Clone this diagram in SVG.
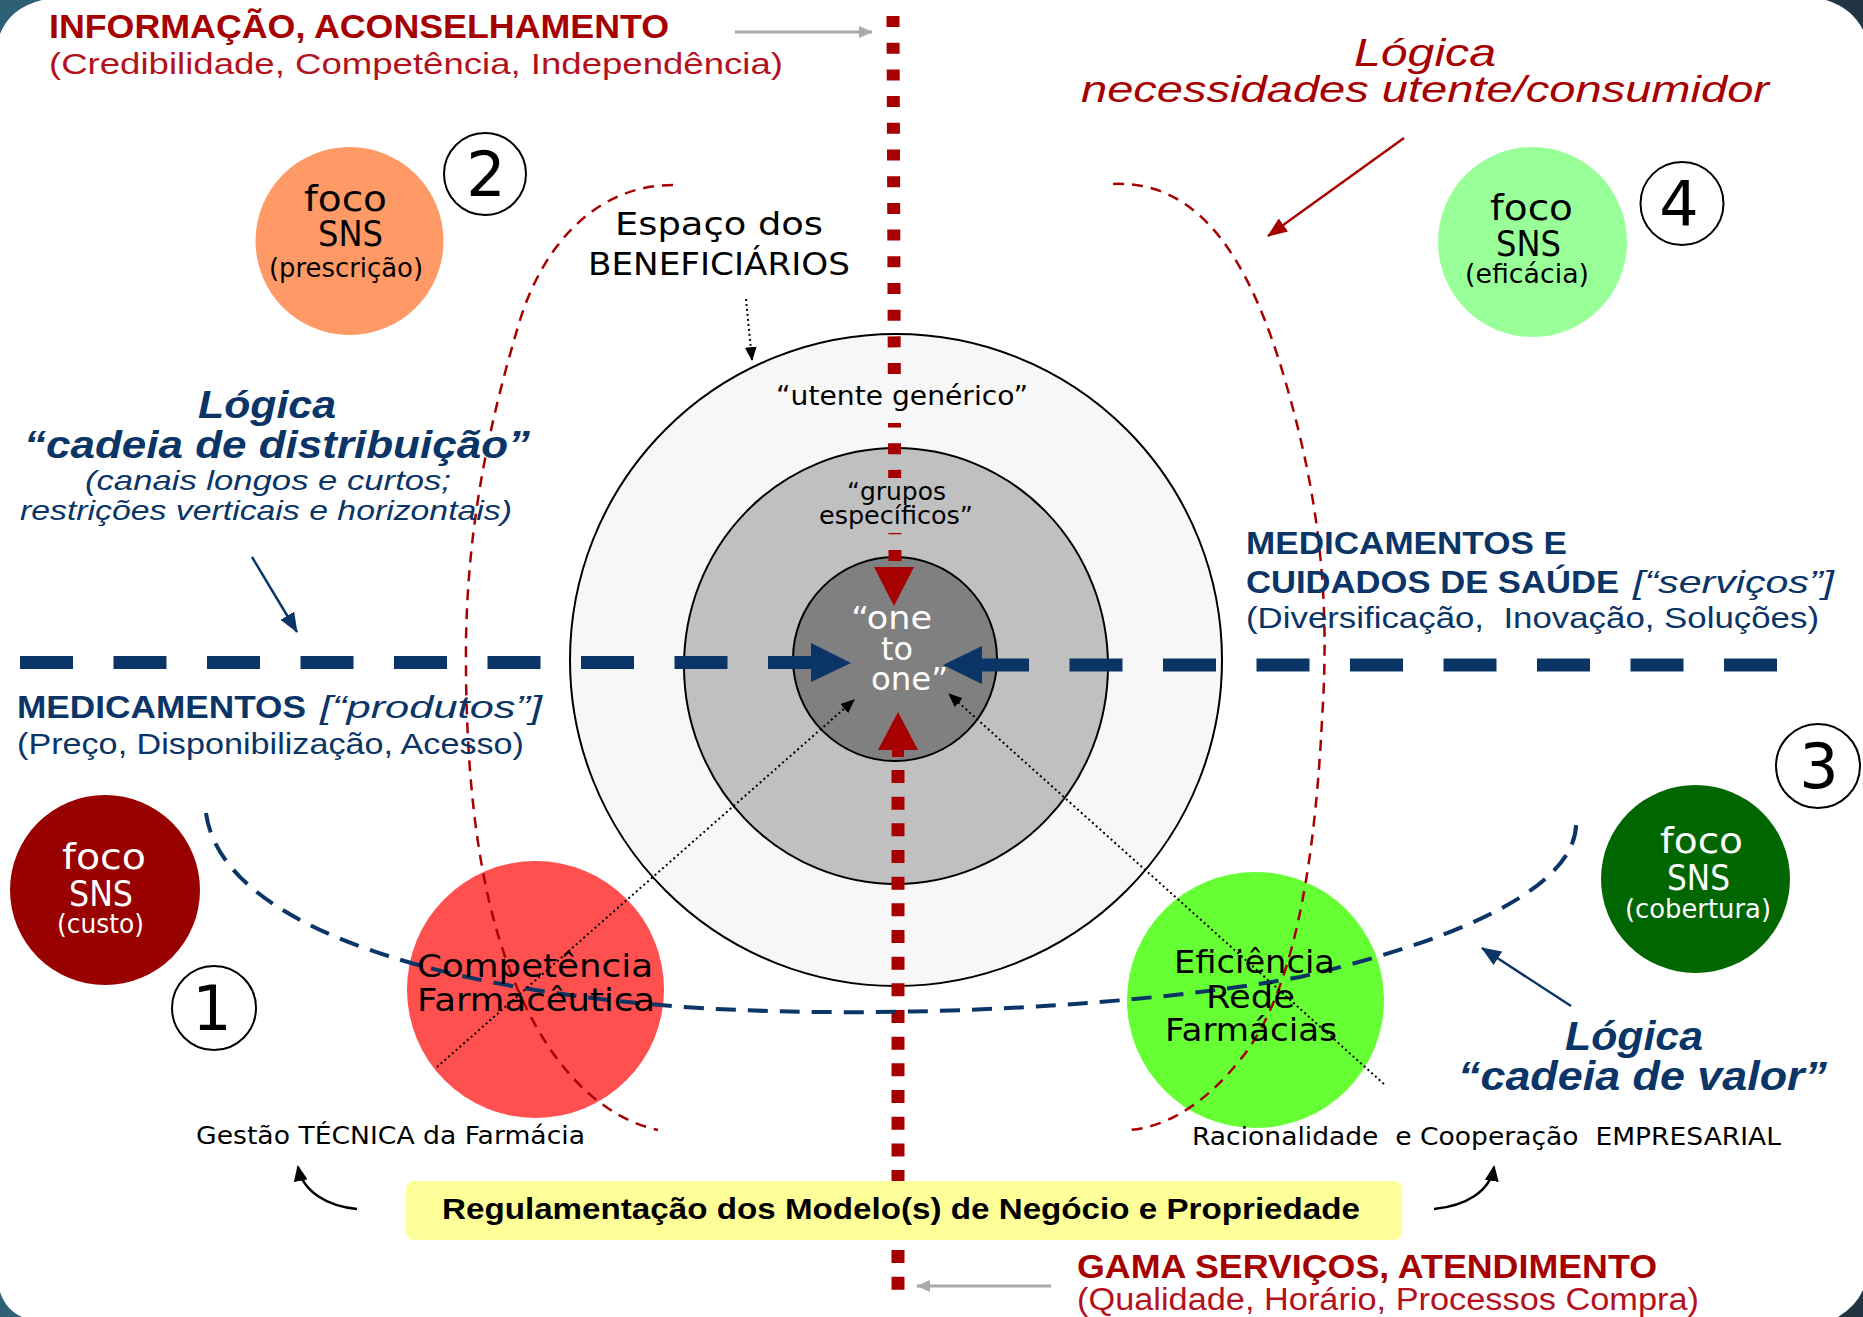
<svg xmlns="http://www.w3.org/2000/svg" width="1863" height="1317" viewBox="0 0 1863 1317">
  <defs>
    <style>
      text { font-family: "Liberation Sans", Arial, sans-serif; }
      .geo { font-family: "DejaVu Sans", "Liberation Sans", sans-serif; }
      .red { fill: #a60000; }
      .red2 { fill: #b3121c; }
      .navy { fill: #0a3566; }
      .b { font-weight: bold; }
      .i { font-style: italic; }
      .w { fill: #ffffff; }
      .k { fill: #000000; }
      .pre { white-space: pre; }
      .num { font-size: 62px; text-anchor: middle; fill: #000; }
      .ring { stroke: #000; stroke-width: 2; }
      .numc { fill: #fff; stroke: #000; stroke-width: 2; }
      .dotted { fill: none; stroke: #000; stroke-width: 2; stroke-dasharray: 2 3; }
      .reddash { fill: none; stroke: #a60000; stroke-width: 2.5; stroke-dasharray: 11 8; }
      .bluedash { fill: none; stroke: #0a3566; stroke-width: 4; stroke-dasharray: 20 12; }
    </style>
    <marker id="ahBlack" viewBox="0 0 14 12" refX="13" refY="6" markerWidth="14" markerHeight="12" markerUnits="userSpaceOnUse" orient="auto">
      <path d="M0,0 L14,6 L0,12 z" fill="#000"/>
    </marker>
    <marker id="ahCurve" viewBox="0 0 16 14" refX="14" refY="7" markerWidth="16" markerHeight="14" markerUnits="userSpaceOnUse" orient="auto">
      <path d="M0,0 L16,7 L0,14 z" fill="#000"/>
    </marker>
    <marker id="ahGray" viewBox="0 0 14 12" refX="13" refY="6" markerWidth="14" markerHeight="12" markerUnits="userSpaceOnUse" orient="auto">
      <path d="M0,0 L14,6 L0,12 z" fill="#aaaaaa"/>
    </marker>
    <marker id="ahRed" viewBox="0 0 20 16" refX="19" refY="8" markerWidth="20" markerHeight="16" markerUnits="userSpaceOnUse" orient="auto">
      <path d="M0,0 L20,8 L0,16 z" fill="#a60000"/>
    </marker>
    <marker id="ahBlue" viewBox="0 0 20 16" refX="19" refY="8" markerWidth="20" markerHeight="16" markerUnits="userSpaceOnUse" orient="auto">
      <path d="M0,0 L20,8 L0,16 z" fill="#0a3566"/>
    </marker>
  </defs>

  <!-- page and frame corners -->
  <rect x="0" y="0" width="1863" height="1317" fill="#ffffff"/>
  <path d="M0,0 L42,0 Q10,8 0,34 Z" fill="#2e6175"/>
  <path d="M1826,0 L1863,0 L1863,30 Q1852,8 1826,0 Z" fill="#213542"/>
  <path d="M0,1292 Q6,1310 22,1317 L0,1317 Z" fill="#2e6175"/>
  <path d="M1863,1290 Q1856,1306 1838,1317 L1863,1317 Z" fill="#213542"/>

  <!-- beneficiary space: concentric rings -->
  <g id="beneficiarios">
    <circle cx="896" cy="660" r="326" fill="#f7f7f7" class="ring"/>
    <ellipse cx="896" cy="666" rx="212" ry="218" fill="#c0c0c0" class="ring"/>
    <circle cx="895" cy="659" r="102" fill="#808080" class="ring"/>
  </g>

  <g id="connectors">
    <!-- vertical axis (red) -->
    <line x1="893" y1="16" x2="895" y2="566" stroke="#a60000" stroke-width="13" stroke-dasharray="11 15.7"/>
    <polygon points="874,567 914,567 894,606" fill="#a60000"/>
    <polygon points="878,750 918,750 898,712" fill="#a60000"/>
    <rect x="892" y="749" width="12" height="8" fill="#a60000"/>
    <line x1="898" y1="770" x2="898" y2="1292" stroke="#a60000" stroke-width="13" stroke-dasharray="13 13.67"/>

    <!-- horizontal axis (blue) -->
    <line x1="20" y1="662.5" x2="811" y2="662.5" stroke="#0a3566" stroke-width="13" stroke-dasharray="53 40.5"/>
    <polygon points="811,643 811,682 851,663" fill="#0a3566"/>
    <line x1="976" y1="665" x2="1777" y2="665" stroke="#0a3566" stroke-width="13" stroke-dasharray="53 40.5"/>
    <polygon points="982,646 982,684 943,665" fill="#0a3566"/>
  </g>

  <!-- ring labels -->
  <g id="utente-generico">
    <rect x="772" y="380" width="256" height="43" fill="#f7f7f7"/>
    <text x="776" y="405" class="geo k" font-size="26" textLength="252" lengthAdjust="spacingAndGlyphs">“utente genérico”</text>
  </g>
  <g id="grupos-especificos">
    <rect x="816" y="478" width="160" height="55" fill="#c0c0c0"/>
    <text x="847" y="500" class="geo k" font-size="24" textLength="99" lengthAdjust="spacingAndGlyphs">“grupos</text>
    <text x="819" y="524" class="geo k" font-size="24" textLength="154" lengthAdjust="spacingAndGlyphs">específicos”</text>
  </g>
  <g id="one-to-one">
    <text x="851" y="629" class="geo w" font-size="32" textLength="81" lengthAdjust="spacingAndGlyphs">“one</text>
    <text x="881" y="660" class="geo w" font-size="32" textLength="32" lengthAdjust="spacingAndGlyphs">to</text>
    <text x="871" y="690" class="geo w" font-size="32" textLength="77" lengthAdjust="spacingAndGlyphs">one”</text>
  </g>

  <!-- pharmacy circles -->
  <g id="competencia">
    <ellipse cx="535.5" cy="989.5" rx="128.5" ry="128.5" fill="#ff5050"/>
  </g>
  <g id="eficiencia">
    <ellipse cx="1255.5" cy="1000" rx="128.5" ry="128" fill="#66ff33"/>
  </g>

  <g id="connectors-curves">
    <!-- dashed logic boundaries -->
    <path class="reddash" d="M673,185 C600,185 545,240 520,320 C490,420 468,520 466,640 C465,760 475,880 510,970 C540,1050 590,1115 658,1130"/>
    <path class="reddash" d="M1113,184 C1200,180 1250,260 1285,380 C1320,500 1330,600 1322,720 C1314,880 1290,1000 1240,1060 C1200,1110 1160,1128 1129,1130"/>
    <path class="bluedash" d="M206,813 C220,920 420,990 700,1008 C900,1020 1150,1005 1300,977 C1480,935 1580,880 1576,820"/>

    <!-- dotted pointers -->
    <line class="dotted" x1="746" y1="299" x2="752" y2="360" marker-end="url(#ahBlack)"/>
    <line class="dotted" x1="437" y1="1067" x2="854" y2="700" marker-end="url(#ahBlack)"/>
    <line class="dotted" x1="1384" y1="1084" x2="949" y2="694" marker-end="url(#ahBlack)"/>

    <!-- solid pointers -->
    <line x1="735" y1="32" x2="872" y2="32" stroke="#aaaaaa" stroke-width="3" marker-end="url(#ahGray)"/>
    <line x1="1051" y1="1286" x2="917" y2="1286" stroke="#aaaaaa" stroke-width="3" marker-end="url(#ahGray)"/>
    <line x1="1404" y1="138" x2="1268" y2="236" stroke="#a60000" stroke-width="2.5" marker-end="url(#ahRed)"/>
    <line x1="252" y1="557" x2="297" y2="632" stroke="#0a3566" stroke-width="2.5" marker-end="url(#ahBlue)"/>
    <line x1="1571" y1="1006" x2="1482" y2="948" stroke="#0a3566" stroke-width="2.5" marker-end="url(#ahBlue)"/>

    <!-- curved arrows from the regulation box -->
    <path d="M357,1209 C327,1206 303,1192 298,1167" fill="none" stroke="#000" stroke-width="2.5" marker-end="url(#ahCurve)"/>
    <path d="M1434,1209 C1465,1206 1490,1192 1494,1167" fill="none" stroke="#000" stroke-width="2.5" marker-end="url(#ahCurve)"/>
  </g>

  <!-- pharmacy circle labels -->
  <g id="competencia-label">
    <text x="417" y="977" class="geo k" font-size="32" textLength="236" lengthAdjust="spacingAndGlyphs">Competência</text>
    <text x="417" y="1011" class="geo k" font-size="32" textLength="238" lengthAdjust="spacingAndGlyphs">Farmacêutica</text>
  </g>
  <g id="eficiencia-label">
    <text x="1174" y="973" class="geo k" font-size="32" textLength="161" lengthAdjust="spacingAndGlyphs">Eficiência</text>
    <text x="1206" y="1008" class="geo k" font-size="32" textLength="89" lengthAdjust="spacingAndGlyphs">Rede</text>
    <text x="1165" y="1041" class="geo k" font-size="32" textLength="172" lengthAdjust="spacingAndGlyphs">Farmácias</text>
  </g>

  <!-- SNS focus nodes -->
  <g id="foco-prescricao">
    <circle cx="349.5" cy="241" r="94" fill="#ff9966"/>
    <text x="304" y="211" class="geo k" font-size="36" textLength="83" lengthAdjust="spacingAndGlyphs">foco</text>
    <text x="318" y="246" class="geo k" font-size="36" textLength="65" lengthAdjust="spacingAndGlyphs">SNS</text>
    <text x="269" y="277" class="geo k" font-size="26" textLength="154" lengthAdjust="spacingAndGlyphs">(prescrição)</text>
  </g>
  <g id="foco-eficacia">
    <ellipse cx="1532.5" cy="242" rx="94.5" ry="95" fill="#99ff99"/>
    <text x="1490" y="220" class="geo k" font-size="36" textLength="83" lengthAdjust="spacingAndGlyphs">foco</text>
    <text x="1496" y="256" class="geo k" font-size="36" textLength="65" lengthAdjust="spacingAndGlyphs">SNS</text>
    <text x="1465" y="283" class="geo k" font-size="26" textLength="124" lengthAdjust="spacingAndGlyphs">(eficácia)</text>
  </g>
  <g id="foco-custo">
    <circle cx="105" cy="890" r="95" fill="#990000"/>
    <text x="62" y="869" class="geo w" font-size="36" textLength="84" lengthAdjust="spacingAndGlyphs">foco</text>
    <text x="69" y="906" class="geo w" font-size="36" textLength="64" lengthAdjust="spacingAndGlyphs">SNS</text>
    <text x="57" y="933" class="geo w" font-size="26" textLength="87" lengthAdjust="spacingAndGlyphs">(custo)</text>
  </g>
  <g id="foco-cobertura">
    <ellipse cx="1695.5" cy="879" rx="94.5" ry="94" fill="#006600"/>
    <text x="1660" y="853" class="geo w" font-size="36" textLength="83" lengthAdjust="spacingAndGlyphs">foco</text>
    <text x="1667" y="890" class="geo w" font-size="36" textLength="63" lengthAdjust="spacingAndGlyphs">SNS</text>
    <text x="1625" y="918" class="geo w" font-size="26" textLength="146" lengthAdjust="spacingAndGlyphs">(cobertura)</text>
  </g>

  <!-- quadrant numbers -->
  <g id="num-1"><circle cx="214" cy="1008" r="42" class="numc"/><text x="212" y="1030" class="num geo">1</text></g>
  <g id="num-2"><circle cx="485" cy="174" r="41" class="numc"/><text x="486" y="196" class="num geo">2</text></g>
  <g id="num-3"><circle cx="1818" cy="766" r="42" class="numc"/><text x="1819" y="788" class="num geo">3</text></g>
  <g id="num-4"><circle cx="1682" cy="203.5" r="41.5" class="numc"/><text x="1679" y="226" class="num geo">4</text></g>

  <!-- beneficiary caption -->
  <g id="espaco">
    <text x="615" y="235" class="geo k" font-size="32" textLength="208" lengthAdjust="spacingAndGlyphs">Espaço dos</text>
    <text x="588" y="275" class="geo k" font-size="32" textLength="262" lengthAdjust="spacingAndGlyphs">BENEFICIÁRIOS</text>
  </g>

  <!-- axis captions -->
  <g id="informacao">
    <text x="49" y="38" class="red b" font-size="33" textLength="620" lengthAdjust="spacingAndGlyphs">INFORMAÇÃO, ACONSELHAMENTO</text>
    <text x="49" y="74" class="red2" font-size="30" textLength="734" lengthAdjust="spacingAndGlyphs">(Credibilidade, Competência, Independência)</text>
  </g>
  <g id="logica-necessidades">
    <text x="1354" y="66" class="red i" font-size="38" textLength="142" lengthAdjust="spacingAndGlyphs">Lógica</text>
    <text x="1081" y="102" class="red i" font-size="36" textLength="688" lengthAdjust="spacingAndGlyphs">necessidades utente/consumidor</text>
  </g>
  <g id="logica-distribuicao">
    <text x="198" y="418" class="navy b i" font-size="38" textLength="138" lengthAdjust="spacingAndGlyphs">Lógica</text>
    <text x="24" y="458" class="navy b i" font-size="38" textLength="506" lengthAdjust="spacingAndGlyphs">“cadeia de distribuição”</text>
    <text x="85" y="490" class="navy i" font-size="28" textLength="366" lengthAdjust="spacingAndGlyphs">(canais longos e curtos;</text>
    <text x="20" y="520" class="navy i" font-size="28" textLength="492" lengthAdjust="spacingAndGlyphs">restrições verticais e horizontais)</text>
  </g>
  <g id="medicamentos-produtos">
    <text x="17" y="718" class="navy b" font-size="32" textLength="289" lengthAdjust="spacingAndGlyphs">MEDICAMENTOS</text>
    <text x="320" y="718" class="navy i" font-size="32" textLength="222" lengthAdjust="spacingAndGlyphs">[“produtos”]</text>
    <text x="17" y="754" class="navy" font-size="29" textLength="507" lengthAdjust="spacingAndGlyphs">(Preço, Disponibilização, Acesso)</text>
  </g>
  <g id="medicamentos-servicos">
    <text x="1246" y="554" class="navy b" font-size="32" textLength="321" lengthAdjust="spacingAndGlyphs">MEDICAMENTOS E</text>
    <text x="1246" y="593" class="navy b" font-size="32" textLength="373" lengthAdjust="spacingAndGlyphs">CUIDADOS DE SAÚDE</text>
    <text x="1633" y="593" class="navy i" font-size="32" textLength="201" lengthAdjust="spacingAndGlyphs">[“serviços”]</text>
    <text x="1246" y="628" class="navy pre" font-size="29" textLength="573" lengthAdjust="spacingAndGlyphs">(Diversificação,  Inovação, Soluções)</text>
  </g>
  <g id="logica-valor">
    <text x="1565" y="1050" class="navy b i" font-size="40" textLength="138" lengthAdjust="spacingAndGlyphs">Lógica</text>
    <text x="1458" y="1090" class="navy b i" font-size="40" textLength="369" lengthAdjust="spacingAndGlyphs">“cadeia de valor”</text>
  </g>
  <g id="gestao-tecnica">
    <text x="196" y="1144" class="geo k" font-size="24" textLength="389" lengthAdjust="spacingAndGlyphs">Gestão TÉCNICA da Farmácia</text>
  </g>
  <g id="racionalidade">
    <text x="1192" y="1145" class="geo k pre" font-size="24" textLength="589" lengthAdjust="spacingAndGlyphs">Racionalidade  e Cooperação  EMPRESARIAL</text>
  </g>

  <!-- regulation banner -->
  <g id="regulamentacao">
    <rect x="406" y="1181" width="996" height="59" rx="8" fill="#ffff99"/>
    <text x="442" y="1219" class="b k" font-size="29" textLength="918" lengthAdjust="spacingAndGlyphs">Regulamentação dos Modelo(s) de Negócio e Propriedade</text>
  </g>

  <g id="gama-servicos">
    <text x="1077" y="1278" class="red b" font-size="34" textLength="580" lengthAdjust="spacingAndGlyphs">GAMA SERVIÇOS, ATENDIMENTO</text>
    <text x="1077" y="1310" class="red2" font-size="31" textLength="622" lengthAdjust="spacingAndGlyphs">(Qualidade, Horário, Processos Compra)</text>
  </g>
</svg>
